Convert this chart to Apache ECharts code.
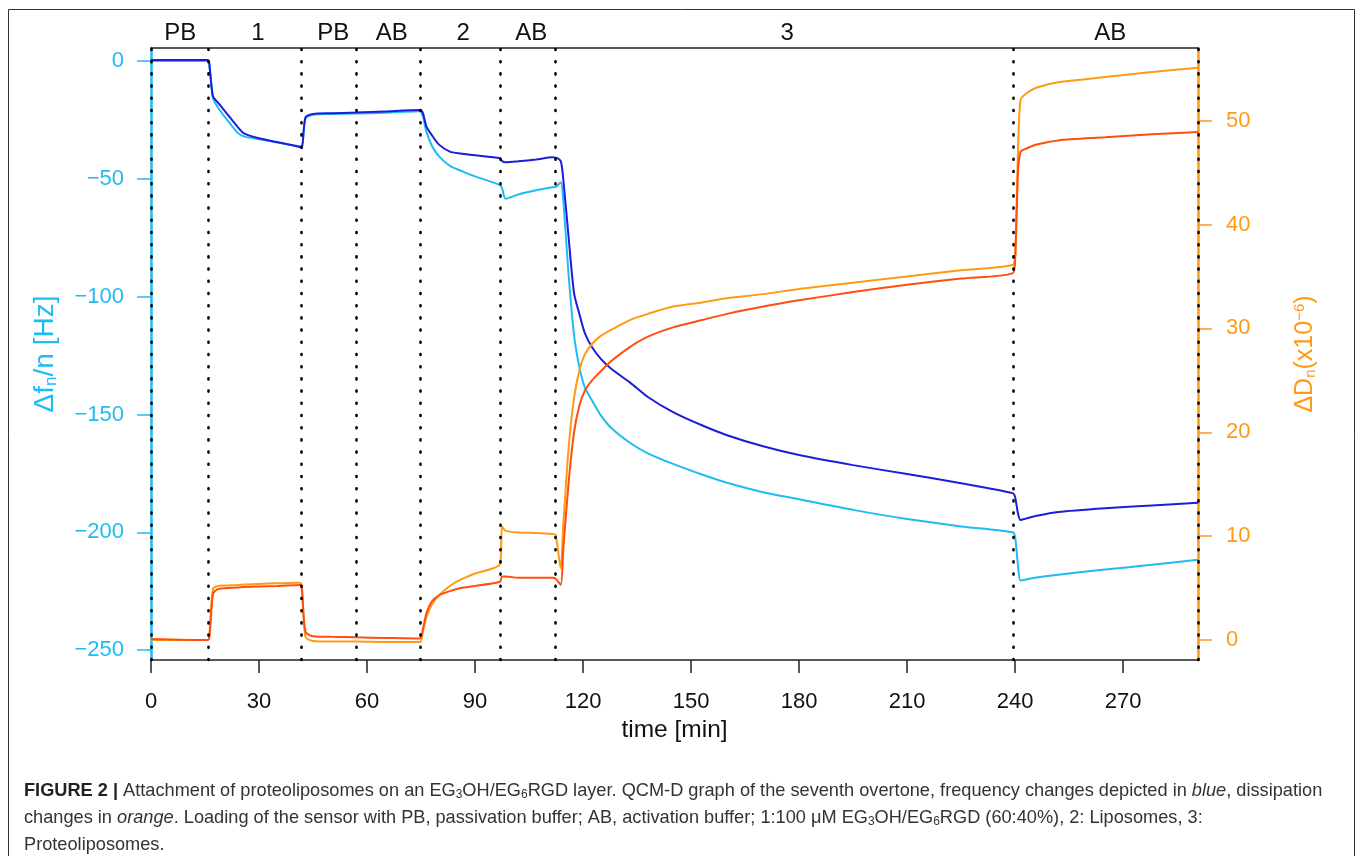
<!DOCTYPE html>
<html>
<head>
<meta charset="utf-8">
<script src="https://cdn.jsdelivr.net/npm/echarts@6/dist/echarts.min.js"></script>
<style>
  html, body { margin: 0; padding: 0; background: #fff; }
  #chart { width: 1358px; height: 856px; }
</style>
</head>
<body>
<div id="chart"></div>
<script>
// time axis (min) shared by the four traces
var time = [0, 15.8, 16.3, 17.2, 18.5, 21, 24, 25.8, 30, 35,
    41.4, 41.9, 42.9, 45, 50, 57, 65, 74.7, 75.5, 76.5,
    78, 80, 83, 86, 90, 96.9, 97.5, 98.5, 102, 107,
    111.5, 112.4, 113.8, 114.5, 116, 117.5, 119, 120.5, 122.5, 125,
    128, 133, 138, 145, 153, 160, 170, 180, 195, 210,
    225, 239.3, 240, 240.8, 241.5, 243, 246, 252, 265, 278,
    290.8];

// frequency (Hz), dark blue trace
var fBlue = [0.4, 0.4, -3, -15, -17.5, -22.2, -27.9, -30.7, -32.8, -34.4,
    -36.5, -37, -24, -22.5, -22.2, -21.9, -21.4, -20.8, -22, -27.9,
    -31.5, -35.5, -38.5, -39.3, -40, -41.3, -42.5, -43, -42.6, -41.8,
    -40.9, -41, -42.5, -50, -75, -98.5, -107.5, -115.5, -121.5, -126.5,
    -130.8, -136.4, -142.6, -149, -154.6, -158.8, -163.5, -167.2, -171.5, -175.3,
    -179.2, -183.4, -185, -192, -194.8, -194.2, -193, -191.4, -189.8, -188.6,
    -187.5];

// frequency (Hz), light blue trace
var fCyan = [0, 0, -3, -15.5, -19.5, -24.7, -30.4, -32, -33.2, -34.6,
    -36.3, -36.8, -24.5, -22.8, -22.5, -22.3, -22, -21.3, -23.5, -30,
    -36, -40.5, -44.5, -46.5, -49, -52.6, -54, -58.5, -56.7, -54.9,
    -53.6, -53.5, -51.5, -59, -91, -116.3, -130.1, -138.5, -144.1, -150.5,
    -156, -162, -166.5, -171, -175.5, -179, -183, -186, -190.5, -194.4,
    -197.5, -200, -202, -214, -220.5, -220, -219.2, -218, -215.8, -213.8,
    -211.7];

// dissipation (x10^-6), orange trace
var dOrange = [0, 0, 1.0, 4.9, 5.2, 5.25, 5.3, 5.35, 5.4, 5.45,
    5.5, 5.2, 0.3, -0.1, -0.15, -0.15, -0.2, -0.2, 0.8, 2.2,
    3.4, 4.3, 5.2, 5.8, 6.4, 7.3, 10.9, 10.5, 10.35, 10.3,
    10.2, 10.1, 6.9, 11, 18.5, 23.3, 26, 27.5, 28.5, 29.3,
    29.9, 30.8, 31.4, 32.1, 32.5, 32.9, 33.3, 33.8, 34.4, 35,
    35.6, 36.1, 37, 47, 52, 52.6, 53.2, 53.7, 54.2, 54.7,
    55.1];

// dissipation (x10^-6), red-orange trace
var dRed = [0.1, 0, 0.5, 4.4, 4.9, 5.0, 5.05, 5.1, 5.15, 5.2,
    5.3, 4.9, 0.8, 0.35, 0.3, 0.25, 0.2, 0.15, 1.0, 2.6,
    3.7, 4.3, 4.7, 5.0, 5.2, 5.6, 6.1, 6.1, 6.0, 6.0,
    6.0, 5.9, 5.3, 8.7, 15.2, 20, 22.6, 24, 25, 25.9,
    26.9, 28.2, 29.2, 30.1, 30.8, 31.4, 32.1, 32.7, 33.5, 34.2,
    34.8, 35.3, 36.5, 45, 47, 47.3, 47.7, 48.1, 48.4, 48.7,
    48.9];

// buffer changes (dotted lines) and phase labels on top
var switchTimes = [0, 15.8, 41.7, 56.9, 74.7, 96.9, 112.2, 239.4, 290.8];
var phaseLabels = ['PB', '1', 'PB', 'AB', '2', 'AB', '3', 'AB'];
var phasePos = [8.1, 29.7, 50.6, 66.9, 86.7, 105.6, 176.7, 266.4];

var timeTicks = [0, 30, 60, 90, 120, 150, 180, 210, 240, 270];
var freqTicks = [0, -50, -100, -150, -200, -250];
var dissTicks = [0, 10, 20, 30, 40, 50];

var CYAN = '#1fbcf2';
var BLUE = '#1c1cdc';
var ORANGE = '#ff9a14';
var RED = '#ff4e0e';
var FONT = 'Liberation Sans';

function pairs(vals) {
    return time.map(function (t, i) { return [t, vals[i]]; });
}
function minus(v) {
    return v < 0 ? '\u2212' + (-v) : String(v);
}

var chart = echarts.init(document.getElementById('chart'));

var capRich = {
    b: { fontWeight: 'bold', fill: '#222', fontSize: 18.2, fontFamily: FONT },
    i: { fontStyle: 'italic', fill: '#333', fontSize: 18.2, fontFamily: FONT },
    s: { fill: '#333', fontSize: 12, fontFamily: FONT, padding: [8, 0, 0, 0] }
};

var option = {
    animation: false,
    backgroundColor: '#fff',
    textStyle: { fontFamily: FONT },
    grid: { left: 151, top: 48, right: 160, bottom: 196, containLabel: false },
    xAxis: [
        {
            type: 'value', position: 'bottom', min: 0, max: 290.8,
            splitLine: { show: false },
            axisLine: { onZero: false, lineStyle: { color: '#222', width: 1.5 } },
            axisTick: { customValues: timeTicks, length: 13, lineStyle: { color: '#222', width: 1.5 } },
            axisLabel: { customValues: timeTicks, color: '#111', fontSize: 22, margin: 31, fontFamily: FONT },
            name: 'time [min]', nameLocation: 'middle', nameGap: 58,
            nameTextStyle: { color: '#111', fontSize: 24.5, fontFamily: FONT }
        },
        {
            type: 'value', position: 'top', min: 0, max: 290.8,
            splitLine: { show: false },
            axisLine: { onZero: false, lineStyle: { color: '#222', width: 1.5 } },
            axisTick: { show: false },
            axisLabel: {
                customValues: phasePos, color: '#111', fontSize: 24, margin: 3, fontFamily: FONT,
                formatter: function (v) { return phaseLabels[phasePos.indexOf(v)]; }
            }
        }
    ],
    yAxis: [
        {
            type: 'value', position: 'left', min: -254.2, max: 5.5,
            splitLine: { show: false },
            axisLine: { onZero: false, lineStyle: { color: CYAN, width: 2.5 } },
            axisTick: { customValues: freqTicks, length: 14, lineStyle: { color: CYAN, width: 1.5 } },
            axisLabel: {
                customValues: freqTicks, color: CYAN, fontSize: 22, margin: 27, fontFamily: FONT,
                formatter: minus
            },
            name: '\u0394f{sub|n}/n [Hz]', nameLocation: 'middle', nameRotate: 90, nameGap: 91,
            nameTextStyle: {
                color: CYAN, fontSize: 28, fontFamily: FONT,
                rich: { sub: { color: CYAN, fontSize: 17, fontFamily: FONT, padding: [13, 0, 0, 0] } }
            }
        },
        {
            type: 'value', position: 'right', min: -1.93, max: 57.0,
            splitLine: { show: false },
            axisLine: { onZero: false, lineStyle: { color: ORANGE, width: 2.5 } },
            axisTick: { customValues: dissTicks, length: 14, lineStyle: { color: ORANGE, width: 1.5 } },
            axisLabel: { customValues: dissTicks, color: ORANGE, fontSize: 22, margin: 28, fontFamily: FONT },
            name: '\u0394D{sub|n}(x10{sup|\u22126})', nameLocation: 'middle', nameRotate: 90, nameGap: 94,
            nameTextStyle: {
                color: ORANGE, fontSize: 25, fontFamily: FONT,
                rich: {
                    sub: { color: ORANGE, fontSize: 15, fontFamily: FONT, padding: [11, 0, 0, 0] },
                    sup: { color: ORANGE, fontSize: 15, fontFamily: FONT, padding: [0, 0, 11, 0] }
                }
            }
        }
    ],
    series: [
        {
            name: 'f cyan', type: 'line', xAxisIndex: 0, yAxisIndex: 0,
            data: pairs(fCyan), showSymbol: false, color: CYAN,
            smooth: 0.25, lineStyle: { width: 2 },
            markLine: {
                silent: true, symbol: 'none', label: { show: false },
                lineStyle: { color: '#000', type: [1, 11.2], width: 2.6, cap: 'round' },
                data: switchTimes.map(function (t) { return { xAxis: t }; })
            }
        },
        {
            name: 'f blue', type: 'line', xAxisIndex: 0, yAxisIndex: 0,
            data: pairs(fBlue), showSymbol: false, color: BLUE,
            smooth: 0.25, lineStyle: { width: 2 }
        },
        {
            name: 'D orange', type: 'line', xAxisIndex: 0, yAxisIndex: 1,
            data: pairs(dOrange), showSymbol: false, color: ORANGE,
            smooth: 0.25, lineStyle: { width: 2 }
        },
        {
            name: 'D red', type: 'line', xAxisIndex: 0, yAxisIndex: 1,
            data: pairs(dRed), showSymbol: false, color: RED,
            smooth: 0.25, lineStyle: { width: 2 }
        }
    ],
    graphic: {
        elements: [
            {
                type: 'rect', silent: true,
                shape: { x: 8.5, y: 9.5, width: 1346, height: 900 },
                style: { fill: 'none', stroke: '#333', lineWidth: 1 }
            },
            {
                type: 'text', left: 24, top: 782,
                style: {
                    text: '{b|FIGURE 2 |} Attachment of proteoliposomes on an EG{s|3}OH/EG{s|6}RGD layer. QCM-D graph of the seventh overtone, frequency changes depicted in {i|blue}, dissipation',
                    fill: '#333', fontSize: 18.2, fontFamily: FONT, rich: capRich
                }
            },
            {
                type: 'text', left: 24, top: 809,
                style: {
                    text: 'changes in {i|orange}. Loading of the sensor with PB, passivation buffer; AB, activation buffer; 1:100 \u03bcM EG{s|3}OH/EG{s|6}RGD (60:40%), 2: Liposomes, 3:',
                    fill: '#333', fontSize: 18.2, fontFamily: FONT, rich: capRich
                }
            },
            {
                type: 'text', left: 24, top: 836,
                style: { text: 'Proteoliposomes.', fill: '#333', fontSize: 18.2, fontFamily: FONT }
            }
        ]
    }
};

chart.setOption(option);
</script>
</body>
</html>
